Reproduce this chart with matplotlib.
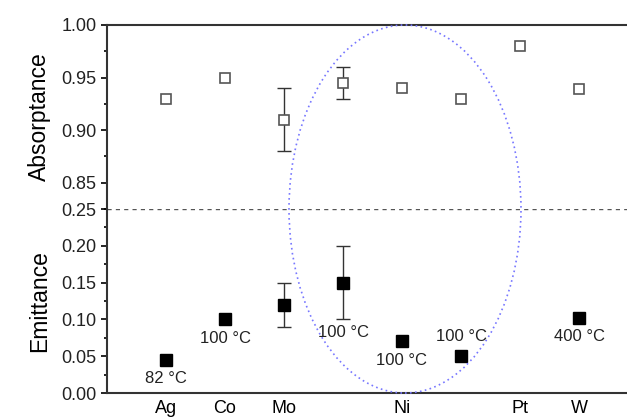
import matplotlib.pyplot as plt
from matplotlib.patches import Ellipse
from matplotlib.ticker import MultipleLocator

plt.rcParams['font.family'] = ['Liberation Sans', 'DejaVu Sans']

# Data (positions 1..8 along x)
pos = [1, 2, 3, 4, 5, 6, 7, 8]
absorb = [0.93, 0.95, 0.91, 0.945, 0.94, 0.93, 0.98, 0.939]
absorb_err = [0, 0, 0.03, 0.015, 0, 0, 0, 0]

emit_pos = [1, 2, 3, 4, 5, 6, 8]
emit = [0.045, 0.10, 0.12, 0.15, 0.07, 0.05, 0.102]
emit_err = [0, 0, 0.03, 0.05, 0, 0, 0]
temp_labels = ['82 °C', '100 °C', '', '100 °C', '100 °C', '100 °C', '400 °C']
label_above = [False, False, False, False, False, True, False]

tick_pos = [1, 2, 3, 5, 7, 8]
tick_names = ['Ag', 'Co', 'Mo', 'Ni', 'Pt', 'W']


def draw_errs(ax, xs, ys, errs):
    # only draw bars where there is an error value
    sel = [(x, y, e) for x, y, e in zip(xs, ys, errs) if e > 0]
    if sel:
        ex, ey, ee = zip(*sel)
        ax.errorbar(ex, ey, yerr=ee, fmt='none', ecolor='#333333',
                    elinewidth=1, capsize=5, capthick=1, zorder=2)


fig = plt.figure(figsize=(6.27, 4.19), dpi=100)
left = 107 / 627
width = 531 / 627
ax_top = fig.add_axes([left, 1 - 209 / 419, width, 184 / 419])
ax_bot = fig.add_axes([left, 1 - 393 / 419, width, 184 / 419])

# Absorptance (top)
draw_errs(ax_top, pos, absorb, absorb_err)
ax_top.plot(pos, absorb, 's', ms=7.5, mfc='white', mec='#555555', mew=1.2, zorder=3)
ax_top.set_xlim(0, 9)
ax_top.set_ylim(0.825, 1.0)
ax_top.set_yticks([0.85, 0.90, 0.95, 1.00])
ax_top.yaxis.set_minor_locator(MultipleLocator(0.025))
ax_top.set_ylabel('Absorptance', fontsize=16.5)
ax_top.set_xticks([])
ax_top.spines['right'].set_visible(False)
ax_top.spines['bottom'].set_visible(False)

# Emittance (bottom)
draw_errs(ax_bot, emit_pos, emit, emit_err)
ax_bot.plot(emit_pos, emit, 's', ms=8, mfc='black', mec='black', zorder=3)
for x, y, err, t, above in zip(emit_pos, emit, emit_err, temp_labels, label_above):
    if not t:
        continue
    if above:
        ax_bot.annotate(t, (x, y), xytext=(0, 9), textcoords='offset points',
                        ha='center', va='bottom', fontsize=12, color='#222222')
    elif err > 0:
        ax_bot.annotate(t, (x, y - err), xytext=(0, -4), textcoords='offset points',
                        ha='center', va='top', fontsize=12, color='#222222')
    else:
        ax_bot.annotate(t, (x, y), xytext=(0, -8), textcoords='offset points',
                        ha='center', va='top', fontsize=12, color='#222222')
ax_bot.axhline(0.25, color='#555555', ls=(0, (3, 3)), lw=1)
ax_bot.set_xlim(0, 9)
ax_bot.set_ylim(0, 0.25)
ax_bot.set_yticks([0.00, 0.05, 0.10, 0.15, 0.20, 0.25])
ax_bot.yaxis.set_minor_locator(MultipleLocator(0.025))
ax_bot.set_ylabel('Emittance', fontsize=16.5)
ax_bot.set_xticks(tick_pos)
ax_bot.set_xticklabels(tick_names, fontsize=13)
ax_bot.tick_params(axis='x', length=0, pad=5)
ax_bot.spines['right'].set_visible(False)
ax_bot.spines['top'].set_visible(False)

for ax in (ax_top, ax_bot):
    ax.yaxis.set_major_formatter(plt.FormatStrFormatter('%.2f'))
    ax.tick_params(axis='y', which='major', direction='out', length=4, width=1.2,
                   labelsize=13, labelcolor='#222222')
    ax.tick_params(axis='y', which='minor', direction='out', length=2.5, width=1.2)
    for s in ax.spines.values():
        s.set_linewidth(1.5)
        s.set_color('#333333')
    ax.yaxis.set_label_coords(-0.105, 0.5)

# Highlight ellipse around Ni samples
ell = Ellipse((405 / 627, 1 - 209 / 419), 232 / 627, 368 / 419,
              transform=fig.transFigure, fill=False, edgecolor='#7777ff',
              ls=(0, (1, 2)), lw=1.2)
fig.add_artist(ell)

fig.savefig('out.png', dpi=100)
